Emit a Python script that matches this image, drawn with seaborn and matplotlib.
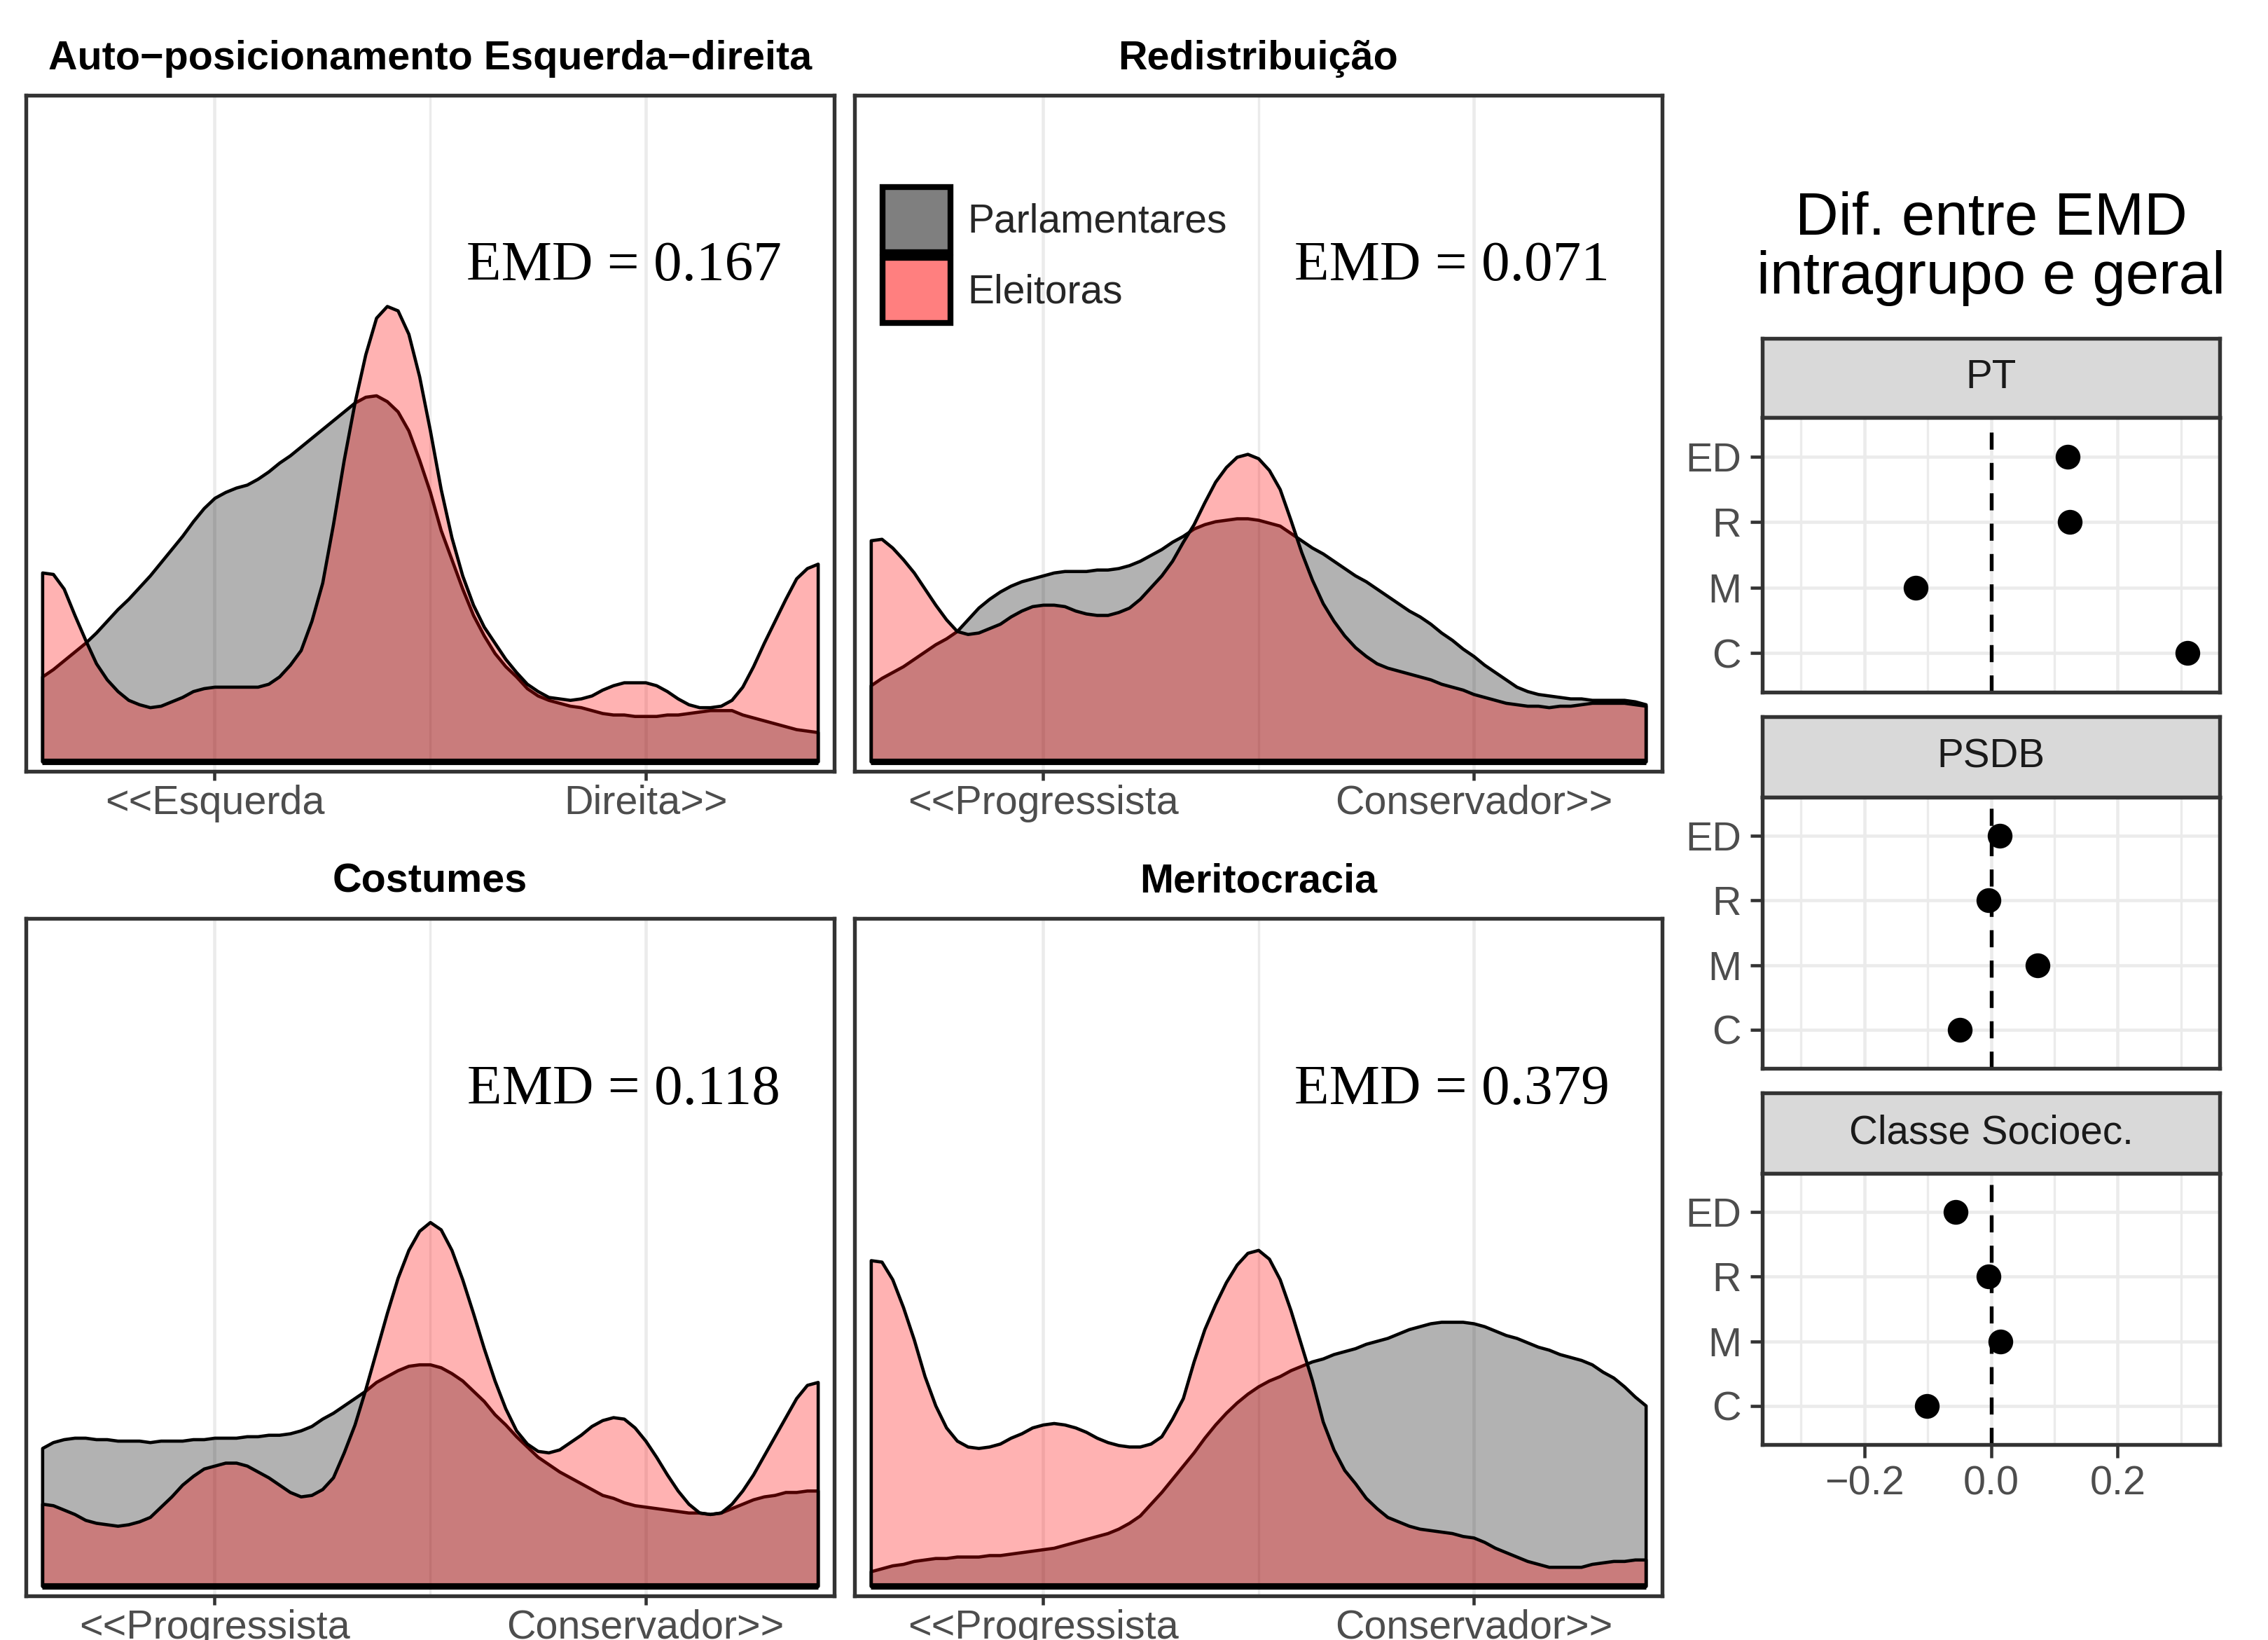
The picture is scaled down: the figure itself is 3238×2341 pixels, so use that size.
import matplotlib
matplotlib.use("Agg")
import matplotlib.pyplot as plt
from matplotlib.patches import Patch
import pandas as pd
import seaborn as sns

x_grid = [1.0, 1.125, 1.25, 1.375, 1.5, 1.625, 1.75, 1.875,
          2.0, 2.125, 2.25, 2.375, 2.5, 2.625, 2.75, 2.875,
          3.0, 3.125, 3.25, 3.375, 3.5, 3.625, 3.75, 3.875,
          4.0, 4.125, 4.25, 4.375, 4.5, 4.625, 4.75, 4.875,
          5.0, 5.125, 5.25, 5.375, 5.5, 5.625, 5.75, 5.875,
          6.0, 6.125, 6.25, 6.375, 6.5, 6.625, 6.75, 6.875,
          7.0, 7.125, 7.25, 7.375, 7.5, 7.625, 7.75, 7.875,
          8.0, 8.125, 8.25, 8.375, 8.5, 8.625, 8.75, 8.875,
          9.0, 9.125, 9.25, 9.375, 9.5, 9.625, 9.75, 9.875,
          10.0]

parl_auto = [0.058, 0.063, 0.069, 0.075, 0.081, 0.088, 0.096, 0.104,
             0.111, 0.119, 0.127, 0.136, 0.145, 0.154, 0.164, 0.173,
             0.180, 0.184, 0.187, 0.189, 0.193, 0.198, 0.204, 0.209,
             0.215, 0.221, 0.227, 0.233, 0.239, 0.245, 0.249, 0.250,
             0.246, 0.239, 0.226, 0.206, 0.184, 0.158, 0.138, 0.118,
             0.100, 0.086, 0.074, 0.065, 0.058, 0.050, 0.045, 0.042,
             0.040, 0.038, 0.037, 0.035, 0.033, 0.032, 0.032, 0.031,
             0.031, 0.031, 0.032, 0.032, 0.033, 0.034, 0.035, 0.035,
             0.035, 0.032, 0.030, 0.028, 0.026, 0.024, 0.022, 0.021,
             0.020]
eleit_auto = [0.129, 0.128, 0.118, 0.100, 0.083, 0.067, 0.056, 0.048,
              0.042, 0.039, 0.037, 0.038, 0.041, 0.044, 0.048, 0.050,
              0.051, 0.051, 0.051, 0.051, 0.051, 0.053, 0.058, 0.066,
              0.076, 0.096, 0.122, 0.162, 0.206, 0.245, 0.278, 0.303,
              0.311, 0.308, 0.292, 0.263, 0.226, 0.186, 0.153, 0.127,
              0.107, 0.092, 0.081, 0.070, 0.061, 0.053, 0.048, 0.044,
              0.043, 0.042, 0.043, 0.045, 0.049, 0.052, 0.054, 0.054,
              0.054, 0.052, 0.048, 0.043, 0.039, 0.037, 0.037, 0.038,
              0.042, 0.051, 0.065, 0.081, 0.096, 0.111, 0.125, 0.132,
              0.135]

parl_redis = [0.052, 0.057, 0.061, 0.065, 0.070, 0.075, 0.080, 0.084,
              0.089, 0.097, 0.105, 0.111, 0.116, 0.120, 0.123, 0.125,
              0.127, 0.129, 0.130, 0.130, 0.130, 0.131, 0.131, 0.132,
              0.134, 0.137, 0.141, 0.145, 0.150, 0.154, 0.159, 0.162,
              0.164, 0.165, 0.166, 0.166, 0.165, 0.163, 0.161, 0.156,
              0.151, 0.146, 0.142, 0.137, 0.132, 0.127, 0.123, 0.118,
              0.113, 0.108, 0.103, 0.099, 0.094, 0.088, 0.083, 0.077,
              0.072, 0.066, 0.061, 0.056, 0.051, 0.048, 0.046, 0.045,
              0.044, 0.043, 0.043, 0.042, 0.042, 0.042, 0.042, 0.041,
              0.039]
eleit_redis = [0.151, 0.152, 0.146, 0.138, 0.129, 0.118, 0.107, 0.097,
               0.089, 0.087, 0.088, 0.091, 0.094, 0.099, 0.103, 0.106,
               0.107, 0.107, 0.106, 0.103, 0.101, 0.100, 0.100, 0.102,
               0.105, 0.111, 0.119, 0.127, 0.137, 0.150, 0.162, 0.177,
               0.191, 0.201, 0.208, 0.210, 0.207, 0.199, 0.186, 0.165,
               0.143, 0.124, 0.108, 0.096, 0.086, 0.078, 0.072, 0.067,
               0.064, 0.062, 0.060, 0.058, 0.056, 0.053, 0.051, 0.049,
               0.046, 0.044, 0.042, 0.040, 0.039, 0.038, 0.038, 0.037,
               0.038, 0.038, 0.039, 0.040, 0.040, 0.040, 0.040, 0.039,
               0.038]

parl_cost = [0.094, 0.098, 0.100, 0.101, 0.101, 0.100, 0.100, 0.099,
             0.099, 0.099, 0.098, 0.099, 0.099, 0.099, 0.100, 0.100,
             0.101, 0.101, 0.101, 0.102, 0.102, 0.103, 0.103, 0.104,
             0.106, 0.109, 0.114, 0.118, 0.123, 0.128, 0.133, 0.139,
             0.143, 0.147, 0.150, 0.151, 0.151, 0.149, 0.145, 0.140,
             0.133, 0.126, 0.117, 0.110, 0.102, 0.095, 0.088, 0.083,
             0.078, 0.074, 0.070, 0.066, 0.062, 0.060, 0.057, 0.055,
             0.054, 0.053, 0.052, 0.051, 0.050, 0.050, 0.049, 0.050,
             0.053, 0.056, 0.059, 0.061, 0.062, 0.064, 0.064, 0.065,
             0.065]
eleit_cost = [0.056, 0.055, 0.052, 0.049, 0.045, 0.043, 0.042, 0.041,
              0.042, 0.044, 0.047, 0.054, 0.061, 0.069, 0.075, 0.080,
              0.082, 0.084, 0.084, 0.082, 0.078, 0.074, 0.069, 0.064,
              0.061, 0.062, 0.066, 0.074, 0.091, 0.110, 0.134, 0.160,
              0.186, 0.210, 0.229, 0.242, 0.248, 0.243, 0.229, 0.209,
              0.186, 0.162, 0.140, 0.121, 0.106, 0.097, 0.092, 0.091,
              0.093, 0.098, 0.103, 0.109, 0.113, 0.115, 0.114, 0.108,
              0.099, 0.088, 0.076, 0.065, 0.056, 0.050, 0.049, 0.050,
              0.056, 0.065, 0.076, 0.089, 0.102, 0.115, 0.128, 0.137,
              0.139]

parl_merit = [0.010, 0.012, 0.014, 0.015, 0.017, 0.018, 0.019, 0.019,
              0.020, 0.020, 0.020, 0.021, 0.021, 0.022, 0.023, 0.024,
              0.025, 0.026, 0.028, 0.030, 0.032, 0.034, 0.036, 0.039,
              0.043, 0.048, 0.056, 0.064, 0.073, 0.082, 0.091, 0.101,
              0.110, 0.118, 0.125, 0.131, 0.136, 0.140, 0.143, 0.147,
              0.150, 0.153, 0.155, 0.158, 0.160, 0.162, 0.165, 0.167,
              0.169, 0.172, 0.175, 0.177, 0.179, 0.180, 0.180, 0.180,
              0.179, 0.177, 0.174, 0.171, 0.169, 0.166, 0.163, 0.161,
              0.158, 0.156, 0.154, 0.151, 0.146, 0.142, 0.136, 0.129,
              0.123]
eleit_merit = [0.222, 0.221, 0.209, 0.190, 0.168, 0.143, 0.123, 0.108,
               0.099, 0.095, 0.094, 0.095, 0.097, 0.101, 0.104, 0.108,
               0.110, 0.111, 0.110, 0.108, 0.105, 0.101, 0.098, 0.096,
               0.095, 0.095, 0.097, 0.102, 0.114, 0.128, 0.153, 0.175,
               0.192, 0.207, 0.219, 0.227, 0.229, 0.223, 0.209, 0.188,
               0.164, 0.140, 0.112, 0.093, 0.079, 0.070, 0.060, 0.053,
               0.047, 0.044, 0.041, 0.039, 0.038, 0.037, 0.036, 0.034,
               0.033, 0.030, 0.026, 0.023, 0.020, 0.017, 0.015, 0.013,
               0.013, 0.013, 0.013, 0.015, 0.016, 0.017, 0.017, 0.018,
               0.018]

panel_titles = ["Auto\u2212posicionamento Esquerda\u2212direita", "Redistribuição",
                "Costumes", "Meritocracia"]
emd_values = ["0.167", "0.071", "0.118", "0.379"]
tick_labels = [["<<Esquerda", "Direita>>"], ["<<Progressista", "Conservador>>"],
               ["<<Progressista", "Conservador>>"], ["<<Progressista", "Conservador>>"]]
parl_curves = [parl_auto, parl_redis, parl_cost, parl_merit]
eleit_curves = [eleit_auto, eleit_redis, eleit_cost, eleit_merit]

# Difference between intra-group EMD and general EMD
dims = ["ED", "R", "M", "C"]
groups = ["PT", "PSDB", "Classe Socioec."]
dif_pt = [0.121, 0.124, -0.119, 0.310]
dif_psdb = [0.014, -0.004, 0.074, -0.049]
dif_classe = [-0.056, -0.004, 0.015, -0.101]

sns.set_theme(style="white")
plt.rcParams["font.family"] = ["Liberation Sans", "DejaVu Sans"]
plt.rcParams["axes.unicode_minus"] = True

W, H = 3238, 2341
fig = plt.figure(figsize=(W / 300, H / 300), dpi=300)


def box(x0, y0, x1, y1):
    # pixel box (top-left origin) -> figure fraction rect
    return [x0 / W, 1 - y1 / H, (x1 - x0) / W, (y1 - y0) / H]


BORDER = "#333333"
GRID = "#EBEBEB"
TICKTXT = "#4D4D4D"

panel_boxes = [box(37, 136, 1191, 1101), box(1220, 136, 2373, 1101),
               box(37, 1311, 1191, 2278), box(1220, 1311, 2373, 2278)]
title_base = [99, 99, 1273, 1273]

for i in range(4):
    ax = fig.add_axes(panel_boxes[i])
    ax.set_xlim(0.81, 10.19)
    ax.set_ylim(-0.0067, 0.455)
    ax.set_xticks([3, 8])
    ax.set_xticklabels(tick_labels[i])
    ax.set_yticks([])
    ax.grid(False)
    ax.axvline(3, color=GRID, lw=1.1, zorder=0)
    ax.axvline(8, color=GRID, lw=1.1, zorder=0)
    ax.axvline(5.5, color=GRID, lw=0.8, zorder=0)
    ax.fill_between(x_grid, parl_curves[i], 0, facecolor=(0, 0, 0, 0.3),
                    edgecolor="black", lw=1.1, zorder=2)
    ax.fill_between(x_grid, eleit_curves[i], 0, facecolor=(1, 0, 0, 0.3),
                    edgecolor="black", lw=1.1, zorder=3)
    ax.hlines(0, x_grid[0], x_grid[-1], color="black", lw=2.2, zorder=4)
    ax.text(7.75, 0.338, "EMD = " + emd_values[i], family="Liberation Serif",
            fontsize=19.5, ha="center", va="center", color="black")
    ax.tick_params(axis="x", which="major", bottom=True, length=3, width=1.1,
                   color=BORDER, labelcolor=TICKTXT, labelsize=13.8, pad=1.5)
    for sp in ax.spines.values():
        sp.set_visible(True)
        sp.set_color(BORDER)
        sp.set_linewidth(1.3)
    r = panel_boxes[i]
    fig.text(r[0] + r[2] / 2, 1 - title_base[i] / H, panel_titles[i],
             ha="center", va="baseline", fontsize=13.8, fontweight="bold", color="black")
    if i == 1:
        handles = [Patch(facecolor=(0, 0, 0, 0.5), edgecolor="black", lw=2),
                   Patch(facecolor=(1, 0, 0, 0.5), edgecolor="black", lw=2)]
        ax.legend(handles, ["Parlamentares", "Eleitoras"], loc="upper left",
                  bbox_to_anchor=(0.0347, 0.864), frameon=False, fontsize=13.7,
                  handlelength=1.7, handleheight=2.13, labelspacing=0.14,
                  handletextpad=0.42, borderpad=0, borderaxespad=0)

# Right column: facets of differences
fig.text(2843 / W, 1 - 355 / H, "Dif. entre EMD\nintragrupo e geral",
         ha="center", va="center", fontsize=20.5, linespacing=1.05, color="black")

facet_rows = [(483, 596, 988), (1023, 1138, 1525), (1560, 1675, 2062)]
facet_vals = [dif_pt, dif_psdb, dif_classe]
for k, (s_top, p_top, p_bot) in enumerate(facet_rows):
    sax = fig.add_axes(box(2516, s_top, 3169, p_top))
    sax.set_facecolor("#D9D9D9")
    sax.set_xticks([])
    sax.set_yticks([])
    for sp in sax.spines.values():
        sp.set_color(BORDER)
        sp.set_linewidth(1.3)
    sax.text(0.5, 0.5, groups[k], transform=sax.transAxes, ha="center",
             va="center", fontsize=13.6, color="#1A1A1A")

    ax = fig.add_axes(box(2516, p_top, 3169, p_bot))
    df = pd.DataFrame({"dim": dims, "dif": facet_vals[k]})
    ax.grid(False)
    for v in [-0.2, 0.0, 0.2]:
        ax.axvline(v, color=GRID, lw=1.1, zorder=0)
    for v in [-0.3, -0.1, 0.1, 0.3]:
        ax.axvline(v, color=GRID, lw=0.8, zorder=0)
    for j in range(len(dims)):
        ax.axhline(j, color=GRID, lw=1.1, zorder=0)
    ax.axvline(0, color="black", lw=1.3, ls=(0, (4.5, 3.5)), zorder=1)
    sns.stripplot(data=df, x="dif", y="dim", order=dims, jitter=False,
                  color="black", size=8.5, linewidth=0, ax=ax, zorder=3)
    ax.set_xlim(-0.361, 0.361)
    ax.set_ylim(3.6, -0.6)
    ax.set_xlabel("")
    ax.set_ylabel("")
    ax.set_xticks([-0.2, 0.0, 0.2])
    if k == 2:
        ax.set_xticklabels(["\u22120.2", "0.0", "0.2"])
        ax.tick_params(axis="x", bottom=True, length=4.5, width=1.1, color=BORDER,
                       labelcolor=TICKTXT, labelsize=13.8, pad=2.5)
    else:
        ax.tick_params(axis="x", bottom=False, labelbottom=False)
    ax.tick_params(axis="y", left=True, length=4.2, width=1.1, color=BORDER,
                   labelcolor=TICKTXT, labelsize=13.8, pad=3)
    for sp in ax.spines.values():
        sp.set_visible(True)
        sp.set_color(BORDER)
        sp.set_linewidth(1.3)

fig.savefig("out.png", dpi=300, facecolor="white")
